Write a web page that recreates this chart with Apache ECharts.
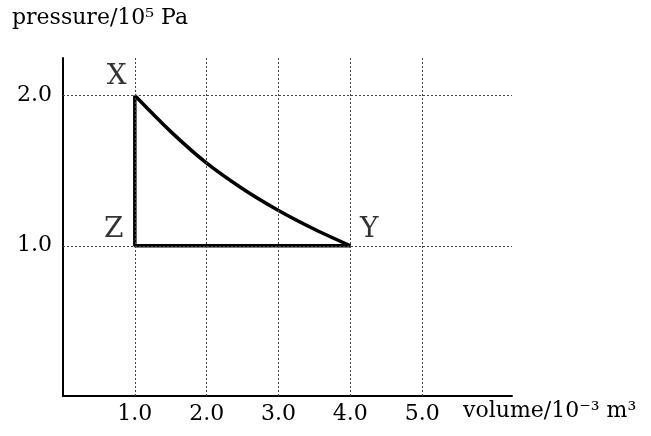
<!DOCTYPE html>
<html><head><meta charset="utf-8">
<script src="https://cdn.jsdelivr.net/npm/echarts@6/dist/echarts.min.js"></script>
<style>html,body{margin:0;padding:0;background:#fff}#c{width:651px;height:436px}</style>
</head><body><div id="c"></div>
<script>
var xTicks = [1, 2, 3, 4, 5];
var yTicks = [1, 2];
var curveXY = [[1, 2], [1.5, 1.76], [2, 1.55], [2.5, 1.38], [3, 1.235], [3.5, 1.11], [4, 1]];
var lineYZ = [[4, 1], [1, 1], [1, 2]];
var pointNames = ['X', 'Y', 'Z'];
var pointXY = [[1, 2], [4, 1], [1, 1]];

var FONT = 'DejaVu Serif';
var chart = echarts.init(document.getElementById('c'));
var gridLines = [];
xTicks.forEach(function (v) { gridLines.push([{ coord: [v, 0] }, { coord: [v, 2.25] }]); });
yTicks.forEach(function (v) { gridLines.push([{ coord: [0, v] }, { coord: [6.25, v] }]); });
var offsets = { X: [-18, -19], Y: [19, -16], Z: [-21, -16] };

chart.setOption({
  animation: false,
  grid: { left: 63, right: 139, top: 58, bottom: 40 },
  xAxis: {
    type: 'value', min: 0, max: 6.25, interval: 1,
    axisLine: { onZero: false, lineStyle: { color: '#000', width: 2 } },
    axisTick: { show: false }, splitLine: { show: false },
    axisLabel: { margin: 7, color: '#000', fontFamily: FONT, fontSize: 22,
      formatter: function (v) { return xTicks.indexOf(v) >= 0 ? v.toFixed(1) : ''; } }
  },
  yAxis: {
    type: 'value', min: 0, max: 2.25, interval: 1,
    axisLine: { show: true, onZero: false, lineStyle: { color: '#000', width: 2 } },
    axisTick: { show: false }, splitLine: { show: false },
    axisLabel: { margin: 11, color: '#000', fontFamily: FONT, fontSize: 22,
      formatter: function (v) { return yTicks.indexOf(v) >= 0 ? v.toFixed(1) : ''; } }
  },
  graphic: [
    { type: 'text', left: 12, top: 7, style: { text: 'pressure/10⁵ Pa', font: '22px "' + FONT + '"', fill: '#000' } },
    { type: 'text', left: 463, top: 400, style: { text: 'volume/10⁻³ m³', font: '22px "' + FONT + '"', fill: '#000' } }
  ],
  series: [
    { type: 'line', data: [], silent: true,
      markLine: { silent: true, symbol: 'none', label: { show: false },
        lineStyle: { color: '#444', width: 1, type: [2, 2] }, data: gridLines } },
    { type: 'line', data: curveXY, smooth: 0.3, showSymbol: false, lineStyle: { color: '#000', width: 3.5 } },
    { type: 'line', data: lineYZ, showSymbol: false, lineStyle: { color: '#000', width: 3.5 } },
    { type: 'scatter', symbolSize: 0, silent: true,
      data: pointXY.map(function (p, i) {
        return { value: p, label: { show: true, formatter: pointNames[i], offset: offsets[pointNames[i]],
          position: 'inside', color: '#000', textBorderWidth: 0, fontFamily: FONT, fontSize: 28 } };
      }) }
  ]
});
</script></body></html>
